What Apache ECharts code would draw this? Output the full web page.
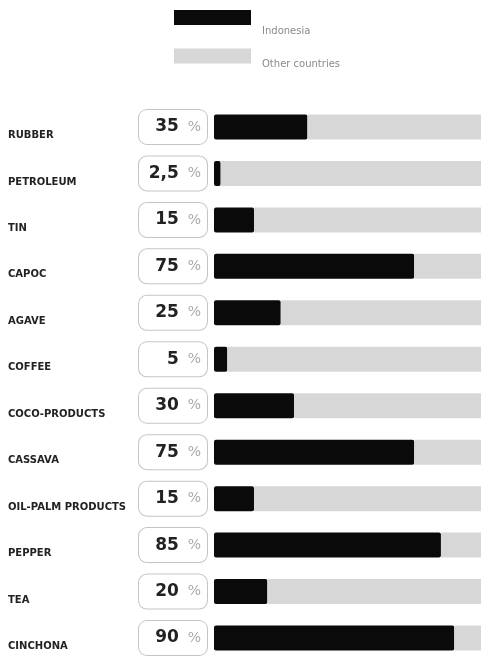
<!DOCTYPE html>
<html>
<head>
<meta charset="utf-8">
<script src="https://cdn.jsdelivr.net/npm/echarts@6/dist/echarts.min.js"></script>
<style>
html,body{margin:0;padding:0;background:#fff;}
#chart{width:485px;height:656px;}
</style>
</head>
<body>
<div id="chart"></div>
<script>
const categories = ['RUBBER','PETROLEUM','TIN','CAPOC','AGAVE','COFFEE','COCO-PRODUCTS','CASSAVA','OIL-PALM PRODUCTS','PEPPER','TEA','CINCHONA'];
const indonesiaShare = [35, 2.5, 15, 75, 25, 5, 30, 75, 15, 85, 20, 90];
const shareLabels = ['35','2,5','15','75','25','5','30','75','15','85','20','90'];
const otherShare = indonesiaShare.map(v => 100 - v);

const legendText = pad => ({rich:{a:{color:'#8a8a8a', fontSize:10, fontFamily:'DejaVu Sans', padding:[pad,0,0,6]}}});

const chart = echarts.init(document.getElementById('chart'), null, {renderer:'canvas'});
chart.setOption({
  backgroundColor:'#fff',
  animation:false,
  legend:{
    data:[
      {name:'Indonesia', textStyle:legendText(28)},
      {name:'Other countries', textStyle:legendText(16)}
    ],
    orient:'vertical',
    left:174, top:10, padding:0,
    itemWidth:77, itemHeight:15, itemGap:12,
    icon:'rect',
    formatter:n=>'{a|'+n+'}',
    textStyle:legendText(28)
  },
  grid:{left:214, right:4, top:127, height:511},
  xAxis:{type:'value', min:0, max:100, show:false},
  yAxis:[
    {
      type:'category', data:categories, inverse:true, boundaryGap:false,
      axisLine:{show:false}, axisTick:{show:false}, splitLine:{show:false},
      axisLabel:{
        align:'left', margin:206, color:'#222',
        fontFamily:'DejaVu Sans', fontWeight:'bold', fontSize:10,
        verticalAlign:'top', lineHeight:17
      }
    },
    {
      type:'category', data:categories, inverse:true, position:'left', boundaryGap:false,
      axisLine:{show:false}, axisTick:{show:false}, splitLine:{show:false},
      axisLabel:{
        margin:7,
        formatter:(v,i)=>'{v|'+shareLabels[i]+'}{p|  %}',
        backgroundColor:'#fff', borderColor:'#c4c4c4', borderWidth:1, borderRadius:8,
        width:56, height:28, align:'right', padding:[3,6,3,6],
        rich:{
          v:{fontFamily:'DejaVu Sans', fontWeight:'bold', fontSize:17, color:'#222', lineHeight:28, verticalAlign:'middle'},
          p:{fontFamily:'DejaVu Sans', fontSize:14, color:'#aaa', lineHeight:28, verticalAlign:'middle'}
        }
      }
    }
  ],
  series:[
    {name:'Indonesia', type:'bar', stack:'s', data:indonesiaShare, barWidth:25, clip:false,
     itemStyle:{color:'#0a0a0a', borderRadius:2}},
    {name:'Other countries', type:'bar', stack:'s', data:otherShare, barWidth:25, clip:false,
     itemStyle:{color:'#d7d7d7'}}
  ]
});
</script>
</body>
</html>
